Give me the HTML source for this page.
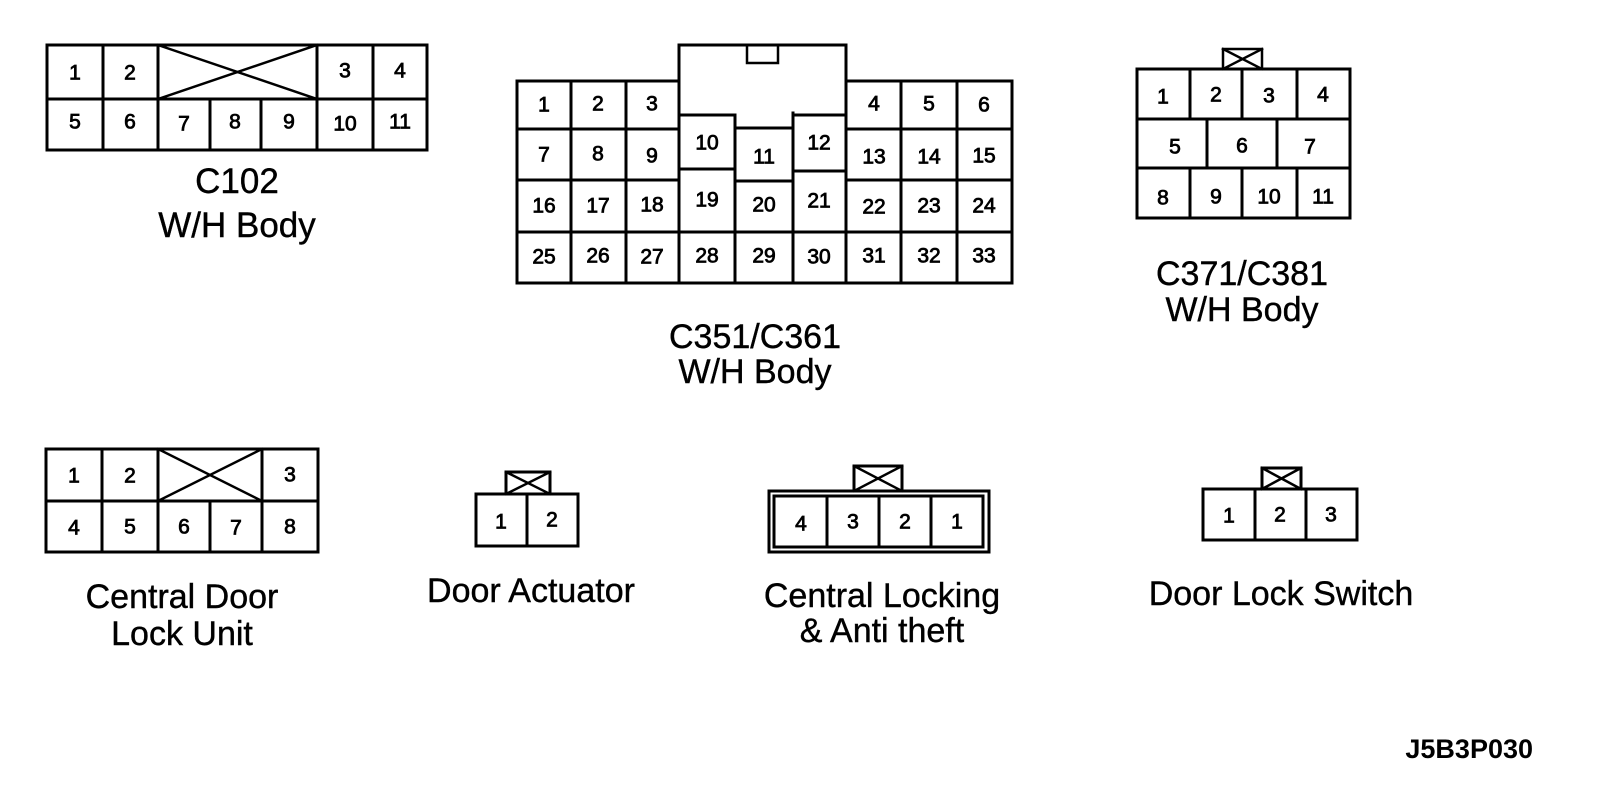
<!DOCTYPE html>
<html><head><meta charset="utf-8"><style>
html,body{margin:0;padding:0;background:#fff;}
svg{display:block;}
text{font-family:"Liberation Sans",Arial,sans-serif;fill:#000;}
.n{font-size:21px;text-anchor:middle;dominant-baseline:central;stroke:#000;stroke-width:0.8;}
.l{font-size:34px;text-anchor:middle;stroke:#000;stroke-width:0.4;}
</style></head><body>
<svg width="1600" height="790" viewBox="0 0 1600 790" xmlns="http://www.w3.org/2000/svg">
<g fill="none" stroke="#000" stroke-width="3" stroke-linecap="square">
<!-- C102 -->
<rect x="47" y="45" width="380" height="105"/>
<line x1="47" y1="99" x2="427" y2="99"/>
<line x1="103" y1="45" x2="103" y2="150"/>
<line x1="158" y1="45" x2="158" y2="150"/>
<line x1="317" y1="45" x2="317" y2="150"/>
<line x1="373" y1="45" x2="373" y2="150"/>
<line x1="210" y1="99" x2="210" y2="150"/>
<line x1="261" y1="99" x2="261" y2="150"/>
<line x1="158" y1="99" x2="317" y2="45" stroke-width="2.5"/>
<line x1="158" y1="45" x2="317" y2="99" stroke-width="2.5"/>

<!-- C351 -->
<polyline points="679,81 517,81 517,283 1012,283 1012,81 846,81"/>
<polyline points="679,115 679,45 846,45 846,115"/>
<polyline points="747,45 747,63 778,63 778,45" stroke-width="2.5"/>
<line x1="517" y1="129" x2="679" y2="129"/>
<line x1="846" y1="129" x2="1012" y2="129"/>
<line x1="517" y1="180" x2="679" y2="180"/>
<line x1="846" y1="180" x2="1012" y2="180"/>
<line x1="517" y1="232" x2="1012" y2="232"/>
<line x1="571" y1="81" x2="571" y2="283"/>
<line x1="626" y1="81" x2="626" y2="283"/>
<line x1="901" y1="81" x2="901" y2="283"/>
<line x1="957" y1="81" x2="957" y2="283"/>
<line x1="679" y1="115" x2="679" y2="283"/>
<line x1="846" y1="115" x2="846" y2="283"/>
<line x1="679" y1="115" x2="735" y2="115"/>
<line x1="793" y1="115" x2="846" y2="115"/>
<line x1="735" y1="128" x2="793" y2="128"/>
<line x1="735" y1="115" x2="735" y2="283"/>
<line x1="793" y1="113" x2="793" y2="283"/>
<line x1="679" y1="169" x2="735" y2="169"/>
<line x1="735" y1="181" x2="793" y2="181"/>
<line x1="793" y1="171" x2="846" y2="171"/>

<!-- C371 -->
<rect x="1137" y="69" width="213" height="149"/>
<line x1="1137" y1="119" x2="1350" y2="119"/>
<line x1="1137" y1="168" x2="1350" y2="168"/>
<line x1="1190" y1="69" x2="1190" y2="119"/>
<line x1="1242" y1="69" x2="1242" y2="119"/>
<line x1="1297" y1="69" x2="1297" y2="119"/>
<line x1="1207" y1="119" x2="1207" y2="168"/>
<line x1="1277" y1="119" x2="1277" y2="168"/>
<line x1="1190" y1="168" x2="1190" y2="218"/>
<line x1="1242" y1="168" x2="1242" y2="218"/>
<line x1="1297" y1="168" x2="1297" y2="218"/>
<rect x="1223" y="49" width="39" height="20" stroke-width="2.5"/>
<polyline points="1223,49 1262,69" stroke-width="2.5"/>
<polyline points="1262,49 1223,69" stroke-width="2.5"/>

<!-- Central Door Lock Unit -->
<rect x="46" y="449" width="272" height="103"/>
<line x1="46" y1="501" x2="318" y2="501"/>
<line x1="102" y1="449" x2="102" y2="552"/>
<line x1="158" y1="449" x2="158" y2="552"/>
<line x1="262" y1="449" x2="262" y2="552"/>
<line x1="210" y1="501" x2="210" y2="552"/>
<line x1="158" y1="501" x2="262" y2="449" stroke-width="2.5"/>
<line x1="158" y1="449" x2="262" y2="501" stroke-width="2.5"/>

<!-- Door Actuator -->
<rect x="476" y="494" width="102" height="52"/>
<line x1="527" y1="494" x2="527" y2="546"/>
<rect x="506" y="472" width="44" height="22"/>
<line x1="506" y1="472" x2="550" y2="494" stroke-width="2.5"/>
<line x1="550" y1="472" x2="506" y2="494" stroke-width="2.5"/>

<!-- Central Locking -->
<rect x="769" y="491" width="220" height="61"/>
<rect x="774" y="496" width="209" height="51"/>
<line x1="827" y1="496" x2="827" y2="547"/>
<line x1="879" y1="496" x2="879" y2="547"/>
<line x1="931" y1="496" x2="931" y2="547"/>
<rect x="854" y="466" width="48" height="25"/>
<line x1="854" y1="466" x2="902" y2="491" stroke-width="2.5"/>
<line x1="902" y1="466" x2="854" y2="491" stroke-width="2.5"/>

<!-- Door Lock Switch -->
<rect x="1203" y="489" width="154" height="51"/>
<line x1="1255" y1="489" x2="1255" y2="540"/>
<line x1="1306" y1="489" x2="1306" y2="540"/>
<rect x="1262" y="468" width="39" height="21"/>
<line x1="1262" y1="468" x2="1301" y2="489" stroke-width="2.5"/>
<line x1="1301" y1="468" x2="1262" y2="489" stroke-width="2.5"/>
</g>

<!-- numbers C102 -->
<text class="n" x="75" y="73">1</text><text class="n" x="130" y="73">2</text>
<text class="n" x="345" y="71">3</text><text class="n" x="400" y="71">4</text>
<text class="n" x="75" y="122">5</text><text class="n" x="130" y="122">6</text>
<text class="n" x="184" y="124">7</text><text class="n" x="235" y="122">8</text>
<text class="n" x="289" y="122">9</text><text class="n" x="345" y="124">10</text>
<text class="n" x="400" y="122">11</text>

<!-- C351 -->
<text class="n" x="544" y="105">1</text><text class="n" x="598" y="104">2</text><text class="n" x="652" y="104">3</text>
<text class="n" x="874" y="104">4</text><text class="n" x="929" y="104">5</text><text class="n" x="984" y="105">6</text>
<text class="n" x="544" y="155">7</text><text class="n" x="598" y="154">8</text><text class="n" x="652" y="156">9</text>
<text class="n" x="707" y="143">10</text><text class="n" x="764" y="157">11</text><text class="n" x="819" y="143">12</text>
<text class="n" x="874" y="157">13</text><text class="n" x="929" y="157">14</text><text class="n" x="984" y="156">15</text>
<text class="n" x="544" y="206">16</text><text class="n" x="598" y="206">17</text><text class="n" x="652" y="205">18</text>
<text class="n" x="707" y="200">19</text><text class="n" x="764" y="205">20</text><text class="n" x="819" y="201">21</text>
<text class="n" x="874" y="207">22</text><text class="n" x="929" y="206">23</text><text class="n" x="984" y="206">24</text>
<text class="n" x="544" y="257">25</text><text class="n" x="598" y="256">26</text><text class="n" x="652" y="257">27</text>
<text class="n" x="707" y="256">28</text><text class="n" x="764" y="256">29</text><text class="n" x="819" y="257">30</text>
<text class="n" x="874" y="256">31</text><text class="n" x="929" y="256">32</text><text class="n" x="984" y="256">33</text>

<!-- C371 -->
<text class="n" x="1163" y="97">1</text><text class="n" x="1216" y="95">2</text><text class="n" x="1269" y="96">3</text><text class="n" x="1323" y="95">4</text>
<text class="n" x="1175" y="147">5</text><text class="n" x="1242" y="146">6</text><text class="n" x="1310" y="147">7</text>
<text class="n" x="1163" y="198">8</text><text class="n" x="1216" y="197">9</text><text class="n" x="1269" y="197">10</text><text class="n" x="1323" y="197">11</text>

<!-- CDLU -->
<text class="n" x="74" y="476">1</text><text class="n" x="130" y="476">2</text><text class="n" x="290" y="475">3</text>
<text class="n" x="74" y="528">4</text><text class="n" x="130" y="527">5</text><text class="n" x="184" y="527">6</text>
<text class="n" x="236" y="528">7</text><text class="n" x="290" y="527">8</text>

<!-- Door Actuator -->
<text class="n" x="501" y="522">1</text><text class="n" x="552" y="520">2</text>

<!-- Central Locking -->
<text class="n" x="801" y="524">4</text><text class="n" x="853" y="522">3</text><text class="n" x="905" y="522">2</text><text class="n" x="957" y="522">1</text>

<!-- Door Lock Switch -->
<text class="n" x="1229" y="516">1</text><text class="n" x="1280" y="515">2</text><text class="n" x="1331" y="515">3</text>

<!-- labels -->
<text class="l" x="237" y="193" style="font-size:35px">C102</text>
<text class="l" x="237" y="237" style="font-size:35px">W/H Body</text>
<text class="l" x="755" y="348">C351/C361</text>
<text class="l" x="755" y="383">W/H Body</text>
<text class="l" x="1242" y="285">C371/C381</text>
<text class="l" x="1242" y="321">W/H Body</text>
<text class="l" x="182" y="608">Central Door</text>
<text class="l" x="182" y="645">Lock Unit</text>
<text class="l" x="531" y="602">Door Actuator</text>
<text class="l" x="882" y="607">Central Locking</text>
<text class="l" x="882" y="642">&amp; Anti theft</text>
<text class="l" x="1281" y="605">Door Lock Switch</text>
<text x="1533" y="758" style="font-size:27px;font-weight:bold;text-anchor:end">J5B3P030</text>
</svg>
</body></html>
